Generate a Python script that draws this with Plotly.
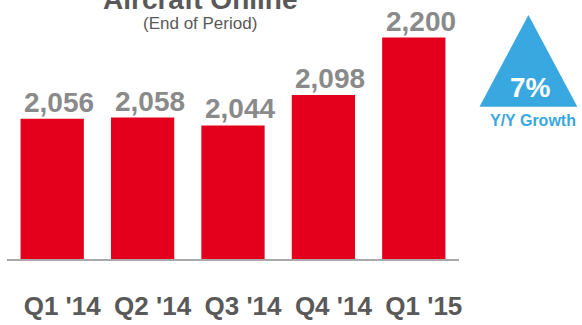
import plotly.graph_objects as go

categories = ["Q1 '14", "Q2 '14", "Q3 '14", "Q4 '14", "Q1 '15"]
aircraft_online = [2056, 2058, 2044, 2098, 2200]
value_labels = ["2,056", "2,058", "2,044", "2,098", "2,200"]
title_text = "Aircraft Online"
subtitle_text = "(End of Period)"
growth_text = "7%"
growth_label = "Y/Y Growth"

W, H = 582, 325
L, R, T, B = 7, 122.5, 0, 65.5
PW, PH = W - L - R, H - T - B


def px(x):
    return (x - L) / PW


def py(y):
    return (H - B - y) / PH


RED = "#e4001c"
GRAY_VAL = "#8a8a8a"
GRAY_TXT = "#595959"
BLUE = "#3aa8e0"
FONT = "Liberation Sans, Arial, sans-serif"

fig = go.Figure()
fig.add_trace(go.Bar(
    x=categories, y=aircraft_online,
    marker=dict(color=RED, line=dict(width=0)),
    width=0.70,
    hoverinfo="skip",
))

annotations = []
for c, v, t in zip(categories, aircraft_online, value_labels):
    annotations.append(dict(
        x=c, y=v, xref="x", yref="y", text=f"<b>{t}</b>", showarrow=False,
        xanchor="center", yanchor="bottom", xshift=7, yshift=-1,
        font=dict(family=FONT, size=28, color=GRAY_VAL),
    ))

annotations += [
    dict(x=px(200), y=py(-1), xref="paper", yref="paper", text=f"<b>{title_text}</b>",
         showarrow=False, xanchor="center", yanchor="middle",
         font=dict(family=FONT, size=28, color=GRAY_TXT)),
    dict(x=px(200), y=py(24), xref="paper", yref="paper", text=subtitle_text,
         showarrow=False, xanchor="center", yanchor="middle",
         font=dict(family=FONT, size=17, color=GRAY_TXT)),
    dict(x=px(531), y=py(88), xref="paper", yref="paper", text=f"<b>{growth_text}</b>",
         showarrow=False, xanchor="center", yanchor="middle",
         font=dict(family=FONT, size=28, color="white")),
    dict(x=px(534), y=py(121), xref="paper", yref="paper", text=f"<b>{growth_label}</b>",
         showarrow=False, xanchor="center", yanchor="middle",
         font=dict(family=FONT, size=16, color=BLUE)),
]

tri = f"M {px(480)} {py(107)} L {px(529)} {py(15)} L {px(578)} {py(107)} Z"
shapes = [dict(type="path", path=tri, xref="paper", yref="paper",
               fillcolor=BLUE, line=dict(width=0), layer="below")]

fig.update_layout(
    width=W, height=H,
    margin=dict(l=L, r=R, t=T, b=B, pad=0),
    paper_bgcolor="white", plot_bgcolor="white",
    showlegend=False,
    bargap=0.30,
    annotations=annotations,
    shapes=shapes,
    xaxis=dict(
        showgrid=False, zeroline=False, showline=True, linecolor="#a9a9a9", linewidth=1.5,
        ticks="", tickfont=dict(family=FONT, size=26, color=GRAY_TXT),
        tickprefix="<b>", ticksuffix="</b>",
        ticklabelstandoff=23, ticklabelshift=10, fixedrange=True,
    ),
    yaxis=dict(
        range=[1807, 2266.6], showgrid=False, zeroline=False, showline=False,
        showticklabels=False, ticks="", fixedrange=True,
    ),
)

fig.write_html("out.html")
